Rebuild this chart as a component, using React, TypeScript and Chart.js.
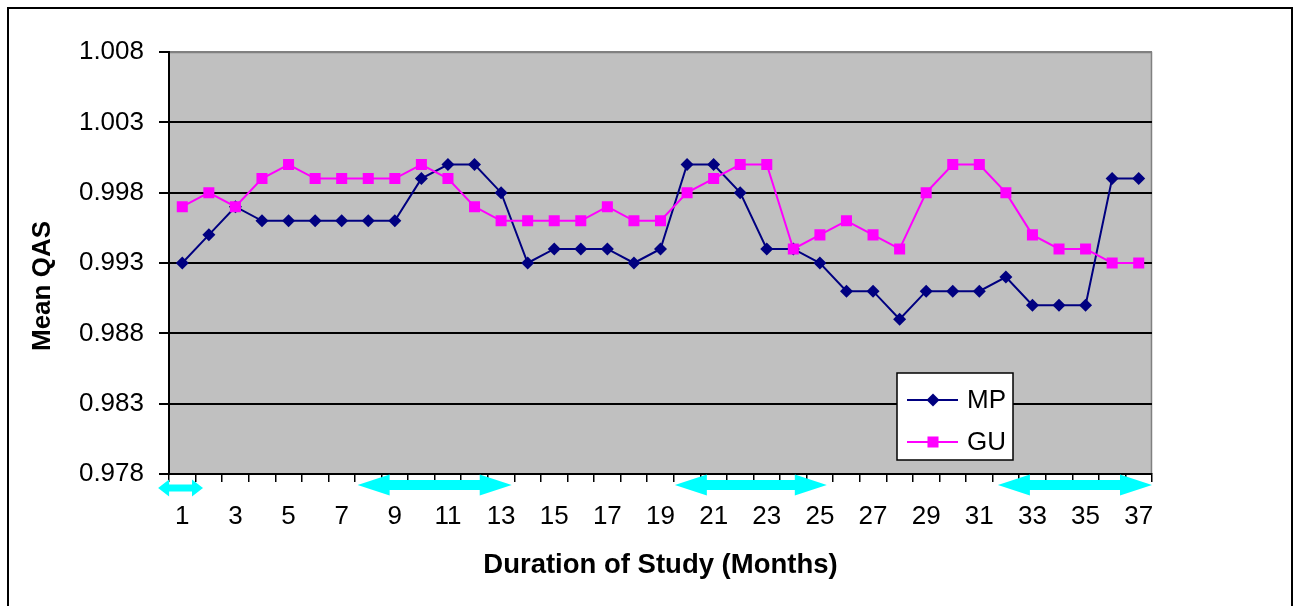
import React, { useEffect, useRef } from 'react';
import { Chart, registerables } from 'chart.js';

Chart.register(...registerables);

const months = [
  '1', '2', '3', '4', '5', '6', '7', '8', '9', '10',
  '11', '12', '13', '14', '15', '16', '17', '18', '19', '20',
  '21', '22', '23', '24', '25', '26', '27', '28', '29', '30',
  '31', '32', '33', '34', '35', '36', '37',
];

const mpValues = [
  0.993, 0.995, 0.997, 0.996, 0.996, 0.996, 0.996, 0.996, 0.996, 0.999,
  1.0, 1.0, 0.998, 0.993, 0.994, 0.994, 0.994, 0.993, 0.994, 1.0,
  1.0, 0.998, 0.994, 0.994, 0.993, 0.991, 0.991, 0.989, 0.991, 0.991,
  0.991, 0.992, 0.99, 0.99, 0.99, 0.999, 0.999,
];

const guValues = [
  0.997, 0.998, 0.997, 0.999, 1.0, 0.999, 0.999, 0.999, 0.999, 1.0,
  0.999, 0.997, 0.996, 0.996, 0.996, 0.996, 0.997, 0.996, 0.996, 0.998,
  0.999, 1.0, 1.0, 0.994, 0.995, 0.996, 0.995, 0.994, 0.998, 1.0,
  1.0, 0.998, 0.995, 0.994, 0.994, 0.993, 0.993,
];

const yMin = 0.978;
const yMax = 1.008;
const yStep = 0.005;

// periods marked by the cyan double arrows, in month units [start, end]
const arrowPeriods: [number, number][] = [
  [0.09, 1.78],
  [7.6, 13.4],
  [19.54, 25.26],
  [31.7, 37.5],
];

const seriesNames = ['MP', 'GU'];
const xTitle = 'Duration of Study (Months)';
const yTitle = 'Mean QAS';

const FONT = '"Liberation Sans", Arial, sans-serif';

function drawArrow(ctx: CanvasRenderingContext2D, x1: number, x2: number, yc: number, headLen: number, headH: number, shaftH: number) {
  ctx.beginPath();
  ctx.moveTo(x1, yc);
  ctx.lineTo(x1 + headLen, yc - headH / 2);
  ctx.lineTo(x1 + headLen, yc - shaftH / 2);
  ctx.lineTo(x2 - headLen, yc - shaftH / 2);
  ctx.lineTo(x2 - headLen, yc - headH / 2);
  ctx.lineTo(x2, yc);
  ctx.lineTo(x2 - headLen, yc + headH / 2);
  ctx.lineTo(x2 - headLen, yc + shaftH / 2);
  ctx.lineTo(x1 + headLen, yc + shaftH / 2);
  ctx.lineTo(x1 + headLen, yc + headH / 2);
  ctx.closePath();
  ctx.fill();
}

function drawMarker(ctx: CanvasRenderingContext2D, style: string, x: number, y: number, r: number, color: string) {
  ctx.fillStyle = color;
  ctx.beginPath();
  if (style === 'rectRot') {
    ctx.moveTo(x, y - r);
    ctx.lineTo(x + r, y);
    ctx.lineTo(x, y + r);
    ctx.lineTo(x - r, y);
    ctx.closePath();
  } else {
    const s = r * Math.SQRT1_2;
    ctx.rect(x - s, y - s, 2 * s, 2 * s);
  }
  ctx.fill();
}

const decorPlugin = {
  id: 'decor',
  beforeDraw(chart: any) {
    const { ctx, chartArea: a, width, height } = chart;
    ctx.save();
    ctx.fillStyle = '#ffffff';
    ctx.fillRect(0, 0, width, height);
    ctx.strokeStyle = '#000000';
    ctx.lineWidth = 2;
    ctx.strokeRect(8, 8, width - 16, height + 20);
    ctx.fillStyle = '#C0C0C0';
    ctx.fillRect(a.left, a.top, a.right - a.left, a.bottom - a.top);
    ctx.strokeStyle = '#808080';
    ctx.lineWidth = 1.5;
    ctx.beginPath();
    ctx.moveTo(a.left, a.top + 0.5);
    ctx.lineTo(a.right - 0.5, a.top + 0.5);
    ctx.lineTo(a.right - 0.5, a.bottom);
    ctx.stroke();
    ctx.restore();
  },
  afterDraw(chart: any) {
    const { ctx, chartArea: a } = chart;
    const xs = chart.scales.x;
    ctx.save();
    // arrows
    ctx.fillStyle = '#00FFFF';
    arrowPeriods.forEach(([s, e]) => {
      const x1 = xs.getPixelForValue(s - 1);
      const x2 = xs.getPixelForValue(e - 1);
      const span = x2 - x1;
      if (span < 80) {
        drawArrow(ctx, x1, x2, a.bottom + 14, 11, 17, 7);
      } else {
        drawArrow(ctx, x1, x2, a.bottom + 11, 32, 21, 10);
      }
    });
    // legend
    const bx = a.right - 255;
    const by = a.bottom - 101;
    const bw = 116;
    const bh = 87;
    ctx.fillStyle = '#ffffff';
    ctx.fillRect(bx, by, bw, bh);
    ctx.strokeStyle = '#000000';
    ctx.lineWidth = 1.5;
    ctx.strokeRect(bx, by, bw, bh);
    const datasets = chart.data.datasets;
    seriesNames.forEach((name, i) => {
      const ds = datasets.find((d: any) => d.label === name);
      const ry = by + 27 + i * 42;
      ctx.strokeStyle = ds.borderColor;
      ctx.lineWidth = 2;
      ctx.beginPath();
      ctx.moveTo(bx + 10, ry);
      ctx.lineTo(bx + 61, ry);
      ctx.stroke();
      drawMarker(ctx, ds.pointStyle, bx + 36, ry, ds.pointRadius, ds.pointBackgroundColor);
      ctx.fillStyle = '#000000';
      ctx.font = `26px ${FONT}`;
      ctx.textAlign = 'left';
      ctx.textBaseline = 'middle';
      ctx.fillText(name, bx + 70, ry + 1);
    });
    // y title
    ctx.translate(43, (a.top + a.bottom) / 2 + 23);
    ctx.rotate(-Math.PI / 2);
    ctx.fillStyle = '#000000';
    ctx.font = `bold 26px ${FONT}`;
    ctx.textAlign = 'center';
    ctx.textBaseline = 'middle';
    ctx.fillText(yTitle, 0, 0);
    ctx.restore();
  },
};

export default function App() {
  const canvasRef = useRef<HTMLCanvasElement | null>(null);

  useEffect(() => {
    if (!canvasRef.current) return;
    const chart = new Chart(canvasRef.current, {
      type: 'line',
      data: {
        labels: months,
        datasets: [
          {
            label: seriesNames[0],
            data: mpValues,
            borderColor: '#000080',
            backgroundColor: '#000080',
            pointBackgroundColor: '#000080',
            pointBorderColor: '#000080',
            pointStyle: 'rectRot',
            pointRadius: 6.5,
            pointBorderWidth: 0,
            borderWidth: 2,
            tension: 0,
            order: 2,
          },
          {
            label: seriesNames[1],
            data: guValues,
            borderColor: '#FF00FF',
            backgroundColor: '#FF00FF',
            pointBackgroundColor: '#FF00FF',
            pointBorderColor: '#FF00FF',
            pointStyle: 'rect',
            pointRadius: 7.8,
            pointBorderWidth: 0,
            borderWidth: 2,
            tension: 0,
            order: 1,
          },
        ],
      },
      options: {
        responsive: false,
        animation: false,
        layout: { padding: { left: 0, top: 52, right: 148, bottom: 0 } },
        plugins: {
          legend: { display: false },
          tooltip: { enabled: false },
        },
        scales: {
          x: {
            type: 'category',
            offset: true,
            grid: {
              offset: true,
              drawOnChartArea: false,
              drawTicks: true,
              tickLength: 8,
              color: '#000000',
              lineWidth: 1.5,
            },
            border: { display: true, color: '#000000', width: 2 },
            ticks: {
              autoSkip: false,
              maxRotation: 0,
              minRotation: 0,
              padding: 19,
              color: '#000000',
              font: { family: FONT, size: 26 },
              callback: (_v: any, i: number) => (i % 2 === 0 ? months[i] : ''),
            },
            title: {
              display: true,
              text: xTitle,
              color: '#000000',
              font: { family: FONT, size: 27.5, weight: 'bold' },
              padding: { top: 0, bottom: 24 },
            },
            afterFit: (scale: any) => {
              scale.height = 132;
            },
          },
          y: {
            min: yMin,
            max: yMax,
            ticks: {
              stepSize: yStep,
              padding: 15,
              color: '#000000',
              font: { family: FONT, size: 26 },
              callback: (v: any) => Number(v).toFixed(3),
            },
            grid: {
              color: (c: any) => (c.tick && Math.abs(c.tick.value - yMax) < 1e-6 ? '#808080' : '#000000'),
              tickColor: '#000000',
              lineWidth: 2,
              tickLength: 10,
            },
            border: { display: true, color: '#000000', width: 2 },
            afterFit: (scale: any) => {
              scale.width = 169;
            },
          },
        },
      },
      plugins: [decorPlugin],
    } as any);
    return () => chart.destroy();
  }, []);

  return (
    <div style={{ position: 'absolute', left: 0, top: 0, width: 1300, height: 606 }}>
      <canvas ref={canvasRef} width={1300} height={606} style={{ width: 1300, height: 606, display: 'block' }} />
    </div>
  );
}
